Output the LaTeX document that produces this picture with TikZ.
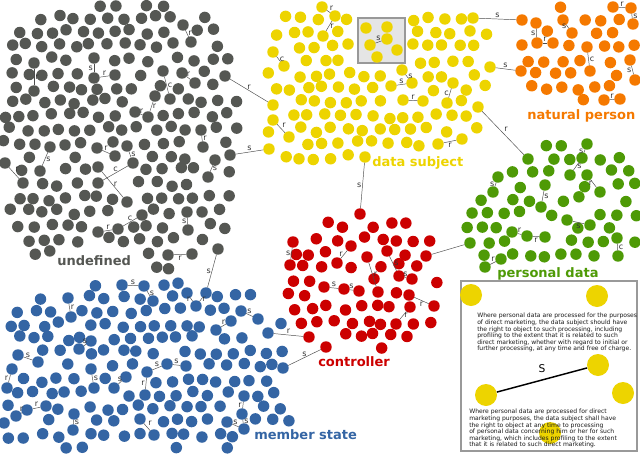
\documentclass[tikz,border=0pt]{standalone}
\usepackage{fontspec}
\setmainfont{DejaVu Sans}
\definecolor{tgray}{HTML}{555753}
\definecolor{tyellow}{HTML}{EDD400}
\definecolor{torange}{HTML}{F57900}
\definecolor{tgreen}{HTML}{4E9A06}
\definecolor{tred}{HTML}{CC0000}
\definecolor{tblue}{HTML}{3465A4}

\def\glist{g1/34/63, g2/34/91, g3/94/78, g4/115/75, g5/94/58, g6/163/71, g7/170/99, g8/182/73, g9/195/83, g10/191/42, g11/183/25, g12/135/112, g13/148/117, g14/155/96, g15/203/147, g16/201/130, g17/208/177, g18/215/160, g19/50/147, g20/40/171, g21/5/163, g22/23/183, g23/97/148, g24/115/156, g25/127/146, g26/133/163, g27/98/167, g28/127/202, g29/98/183, g30/98/232, g31/118/229, g32/142/215, g33/188/230, g34/187/212, g35/168/255, g36/192/254, g37/218/249, g38/225/76, g39/230/155}
\def\ylist{y1/322/7, y2/335/16, y3/323/36, y4/273/52, y5/284/66, y6/391/86, y7/412/83, y8/402/70, y9/403/100, y10/423/101, y11/453/83, y12/447/103, y13/273/120, y14/289/137, y15/438/144, y16/462/139, y17/269/149, y18/273/105, y19/473/18, y20/490/67, y21/478/107, y22/365/157}
\def\xlist{x1/366/28, x2/387/27, x3/370/45, x4/387/39, x5/397/50, x6/377/57}
\def\olist{o1/613/7, o2/631/8, o3/633/24, o4/536/23, o5/537/43, o6/553/43, o7/563/20, o8/572/33, o9/587/47, o10/590/71, o11/630/60, o12/635/80, o13/604/100, o14/620/99, o15/522/20, o16/521/71}
\def\nlist{n1/587/144, n2/582/158, n3/570/175, n4/587/175, n5/600/192, n6/498/177, n7/493/192, n8/545/185, n9/541/207, n10/567/220, n11/590/225, n12/512/232, n13/527/236, n14/545/237, n15/617/238, n16/618/256, n17/485/267, n18/501/259, n19/528/159, n20/470/243}
\def\rlist{r1/360/214, r2/293/242, r3/290/265, r4/351/246, r5/337/263, r6/367/257, r7/378/292, r8/387/251, r9/399/276, r10/412/279, r11/324/287, r12/344/289, r13/359/291, r14/409/295, r15/434/306, r16/410/307, r17/396/324, r18/309/337, r19/326/347, r20/426/256}
\def\blist{b1/122/285, b2/144/286, b3/153/301, b4/68/298, b5/71/317, b6/187/293, b7/196/306, b8/206/293, b9/241/311, b10/258/319, b11/216/330, b12/231/321, b13/91/341, b14/79/349, b15/18/355, b16/38/362, b17/12/369, b18/7/388, b19/147/372, b20/167/364, b21/186/366, b22/145/395, b23/91/369, b24/94/388, b25/126/377, b26/114/388, b27/16/416, b28/27/410, b29/46/406, b30/74/414, b31/73/430, b32/140/419, b33/154/435, b34/244/396, b35/242/414, b36/227/422, b37/244/429, b38/268/333, b39/283/368}

\def\linklist{g1/g2/r/west, g3/g4/r/south, g3/g5/s/east, g6/g7/c/west, g8/g9/r/south, g10/g11/r/west, g12/g13/r/south, g13/g14/r/west, g16/g15/r/west, g17/g18/s/west, g19/g20/s/west, g21/g22/r/south west, g23/g24/r/south, g25/g26/s/west, g27/g28/r/west, g29/g26/c/south, g30/g31/r/south, g31/g32/c/south, g33/g34/s/east, g35/g36/r/north, g37/b8/s/east, g38/y18/r/south, g39/y17/s/south,
y1/y2/r/south west, y2/y3/r/west, y4/y5/c/west, y6/y7/s/south, y7/y8/s/west, y9/y10/r/south, y11/y12/c/east, y13/y14/r/south west, y15/y16/r/north, y19/o15/s/south, y20/o16/s/south, y21/n19/r/south west, y22/r1/s/east, x3/x4/s/south,
o1/o2/r/south, o2/o3/s/west, o4/o5/s/east, o5/o6/r/south, o7/o8/s/east, o9/o10/c/west, o11/o12/s/east, o13/o14/r/south,
n1/n2/s/east, n2/n3/s/west, n4/n5/r/east, n6/n7/s/east, n8/n9/s/west, n10/n11/s/north, n12/n13/r/south, n13/n14/r/north, n15/n16/c/west, n17/n18/r/south,
r2/r3/s/east, r4/r5/r/east, r6/r7/r/west, r8/r9/s/west, r9/r10/s/south, r11/r12/s/south, r12/r13/s/south, r14/r15/r/north, r16/r17/r/west, b38/r18/r/south, b39/r19/s/south,
b1/b2/s/south, b2/b3/s/west, b4/b5/r/west, b6/b7/r/east, b7/b8/r/west, b9/b10/s/south, b11/b12/r/south, b13/b14/s/south, b15/b16/s/south, b17/b18/r/east, b19/b20/s/south, b20/b21/s/south, b19/b22/r/east, b23/b24/s/west, b25/b26/s/south, b27/b28/r/south, b28/b29/r/south, b30/b31/s/west, b32/b33/r/south west, b34/b35/r/east, b36/b37/s/south, b35/b37/s/west}

\newcommand\fixdots[2]{%
  \foreach \n/\x/\y in #2 {%
    \coordinate (\n) at (\x,\y);
    \xdef#1{\unexpanded\expandafter{#1},veclen(\noexpand\X-\x,\noexpand\Y-\y)}%
  }%
}
\newcommand\exclpts[2]{%
  \foreach \x/\y in {#2}{%
    \xdef#1{\unexpanded\expandafter{#1},veclen(\noexpand\X-\x,\noexpand\Y-\y)}%
  }%
}
\def\gsp{16}
\newcommand\dotfield[8]{%
  \pgfmathsetseed{#6}%
  \foreach \j in {0,...,#5}{%
    \foreach \i in {0,...,#4}{%
      \pgfmathsetmacro\X{#2+\i*\gsp+mod(\j,2)*\gsp/2+rand*2.8}%
      \pgfmathsetmacro\Y{#3+\j*\gsp*0.866+rand*2.8}%
      \pgfmathtruncatemacro\ok{(#7) && (min(#8)>11.5)}%
      \ifnum\ok=1 \fill[#1] (\X,\Y) circle[radius=4.3pt];\fi
    }%
  }%
}
\newcommand\drawfixed[2]{\foreach \n/\x/\y in #2 {\fill[#1] (\n) circle[radius=4.3pt];}}

\begin{document}
\begin{tikzpicture}[x=0.75pt,y=-0.75pt,
  lnk/.style={draw=black!70, line width=0.35pt, shorten <=4.3pt, shorten >=4.3pt},
  lab/.style={font=\fontsize{6}{6}\selectfont, text=black!80, inner sep=0.8pt},
  clab/.style={font=\fontsize{9.75}{11}\selectfont\bfseries, inner sep=0pt, anchor=base west},
  bigdot/.style={circle, fill=tyellow, minimum size=16.5pt, inner sep=0pt},
  itxt/.style={font=\fontsize{4.55}{4.95}\selectfont, text=black!90, inner sep=0pt, anchor=north west, align=left}]
\useasboundingbox (0,0) rectangle (640,454);

\gdef\gex{999}\fixdots\gex\glist \exclpts\gex{112/184,115/173,237/83,240/154,214/262}
\gdef\yex{999}\fixdots\yex\ylist \exclpts\yex{260/97,364/170,493/122}
\gdef\oex{999}\fixdots\oex\olist
\gdef\nex{999}\fixdots\nex\nlist
\gdef\rex{999}\fixdots\rex\rlist \exclpts\rex{440/252}
\gdef\bex{999}\fixdots\bex\blist \exclpts\bex{290/335,209/281}
\gdef\xex{999}\fixdots\xex\xlist

% random dot fields
\dotfield{tgray}{3}{4}{15}{19}{11}{pow(abs(\X-120)/117,4)+pow(abs(\Y-138)/133,4)<1 && (\X<50 || \X>140 || \Y<246)}{\gex}
\dotfield{tyellow}{260}{5}{15}{12}{23}{pow(abs(\X-378)/118,4)+pow(abs(\Y-86)/81,4)<1 && (\X<500-0.3*max(\Y-60,0)) && (\X<350 || \X>412 || \Y>70) && (\X<366 || \Y<149)}{\yex}
\dotfield{torange}{514}{5}{8}{7}{37}{pow(abs(\X-576)/62,3)+pow(abs(\Y-53)/48,3)<1 && (\Y<104 || \X<520)}{\oex}
\dotfield{tgreen}{466}{144}{11}{10}{41}{pow(abs(\X-553)/86,4)+pow(abs(\Y-210)/66,4)<1 && (\Y>202-0.75*(\X-470)) && (\X<490 || \Y<258)}{\nex}
\dotfield{tred}{287}{211}{10}{11}{53}{pow(abs(\X-366)/79,2)+pow(abs(\Y-283)/72,2)<1 && (\X<312 || \X>398 || \Y<349)}{\rex}
\dotfield{tblue}{2}{283}{18}{12}{67}{pow(abs(\X-145)/145,4)+pow(abs(\Y-405)/122,4)<1 && (\Y<448) && (veclen(\X-366,\Y-283)>92) && (\X<248 || \Y<424)}{\bex}

% inset box in data subject
\draw[fill=black!10, draw=black!40, line width=1pt] (358,18) rectangle (405,63);

% fixed dots
\drawfixed{tgray}{\glist}
\drawfixed{tyellow}{\ylist}
\drawfixed{tyellow}{\xlist}
\drawfixed{torange}{\olist}
\drawfixed{tgreen}{\nlist}
\drawfixed{tred}{\rlist}
\drawfixed{tblue}{\blist}

% links
\foreach \a/\b/\t/\s in \linklist {\draw[lnk] (\a) -- node[lab, anchor=\s] {\t} (\b);}
\draw[lnk] (r20) -- (n20);

% cluster labels
\node[clab, text=tgray] (lund) at (57,265) {undefined};
\node[clab, text=tyellow] (lds) at (372,166) {data subject};
\node[clab, text=torange] (lnp) at (527,119) {natural person};
\node[clab, text=tgreen] (lpd) at (497,277) {personal data};
\node[clab, text=tred] (lctl) at (318,366) {controller};
\node[clab, text=tblue] (lms) at (254,439) {member state};

% detail inset
\draw[fill=white, draw=black!40, line width=1.1pt] (461,281) rectangle (637,451);
\node[bigdot] (c1) at (471,295) {};
\node[bigdot] (c2) at (597,296) {};
\node[bigdot] (c3) at (598,365) {};
\node[bigdot] (c4) at (486,395) {};
\node[bigdot] (c5) at (623,393) {};
\node[bigdot] (c6) at (550,433) {};
\draw[line width=1.1pt] (c4) -- node[above=1.5pt, font=\fontsize{8}{8}\selectfont] {S} (c3);
\node[itxt] (t1) at (477,313) {Where personal data are processed for the purposes\\of direct marketing, the data subject should have\\the right to object to such processing, including\\profiling to the extent that it is related to such\\direct marketing, whether with regard to initial or\\further processing, at any time and free of charge.};
\node[itxt] (t2) at (469,409) {Where personal data are processed for direct\\marketing purposes, the data subject shall have\\the right to object at any time to processing\\of personal data concerning him or her for such\\marketing, which includes profiling to the extent\\that it is related to such direct marketing.};
\end{tikzpicture}
\end{document}
